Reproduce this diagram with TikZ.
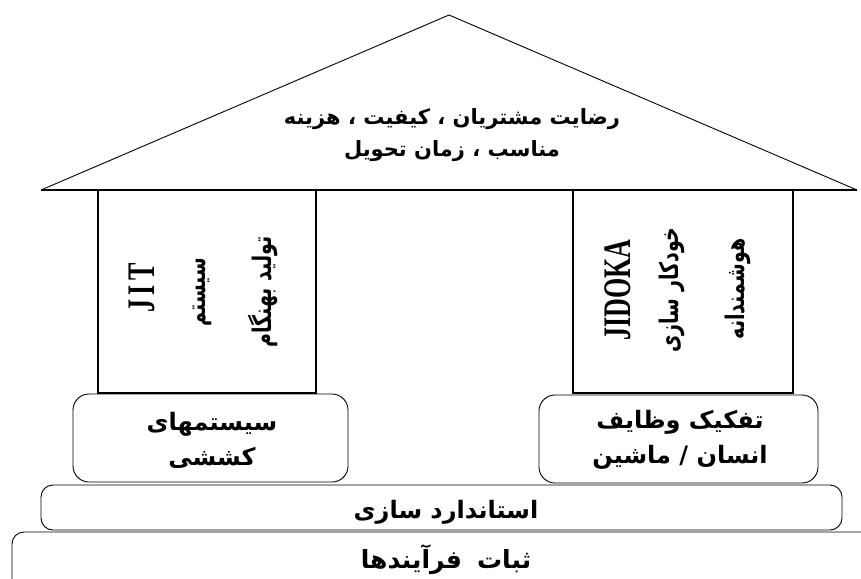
\documentclass[tikz,border=0pt]{standalone}
\usepackage{fontspec}
\setmainfont{Liberation Serif}
\newfontfamily\fa[Script=Arabic]{DejaVu Sans}
\TeXXeTstate=1
\begin{document}
\begin{tikzpicture}[x=1pt,y=-1pt,
  pillar/.style={draw=black, line width=1.5pt, fill=white, minimum width=#1, minimum height=203pt, inner sep=0pt},
  rbox/.style={draw=black, line width=0.9pt, rounded corners=16pt, fill=white, inner sep=0pt},
  fatxt/.style={font=\fa\bfseries\fontsize{21}{32}\selectfont, align=center, inner sep=0pt},
  boxtxt/.style={font=\fa\bfseries\fontsize{24}{35}\selectfont, align=center, inner sep=0pt},
  coltxt/.style={rotate=90, inner sep=0pt, font=\fa\bfseries\fontsize{19}{22}\selectfont},
  latxt/.style={rotate=90, inner sep=0pt, font=\bfseries\fontsize{26}{28}\selectfont}]
\useasboundingbox (0,0) rectangle (861,578);
\clip (0,0) rectangle (861,578);
% roof
\coordinate (apex) at (449,15);
\coordinate (bl) at (41,190);
\coordinate (br) at (857,190);
% pillars
\node[pillar=218pt] (p1) at (207,291.5) {};
\node[pillar=220pt] (p2) at (683,291.5) {};
\draw[line width=0.9pt] (bl) -- (apex) -- (br);
\draw[line width=1.6pt] (bl) -- (br);
\node[fatxt] (goal) at (452,135) {\beginR رضایت مشتریان ، کیفیت ، هزینه\endR\\\beginR مناسب ، زمان تحویل\endR};
% pillar texts
\node[latxt] (jit) at (142,288) {\scalebox{1}[1.5]{J\,I\,T}};
\node[coltxt] (jit2) at (202,292) {\scalebox{1}[1.35]{\beginR سیستم\endR}};
\node[coltxt] (jit3) at (263,292) {\scalebox{1}[1.35]{\beginR تولید بهنگام\endR}};
\node[latxt] (jid) at (618,290) {\scalebox{1}[1.5]{JIDOKA}};
\node[coltxt] (jid2) at (672,290) {\scalebox{1}[1.35]{\beginR خودکار سازی\endR}};
\node[coltxt] (jid3) at (738,289) {\scalebox{1}[1.35]{\beginR هوشمندانه\endR}};
% lower boxes
\node[rbox, minimum width=275pt, minimum height=88pt] (b1) at (210.5,438) {};
\node[rbox, minimum width=279pt, minimum height=88pt] (b2) at (678.5,439) {};
\node[boxtxt] (b1t) at (212,440) {\beginR سیستمهای\endR\\\beginR کششی\endR};
\node[boxtxt] (b2t) at (680,440) {\beginR تفکیک وظایف\endR\\\beginR انسان / ماشین\endR};
\node[rbox, rounded corners=12pt, minimum width=801pt, minimum height=45pt] (std) at (441.5,507.5) {};
\node[boxtxt] (stdt) at (446,512) {\beginR استاندارد سازی\endR};
\node[rbox, rounded corners=12pt, minimum width=880pt, minimum height=70pt] (base) at (452,567) {};
\node[boxtxt, font=\fa\bfseries\fontsize{25}{35}\selectfont] (baset) at (446,560) {\beginR ثبات\hspace{0.6em}فرآیندها\endR};
\end{tikzpicture}
\end{document}
